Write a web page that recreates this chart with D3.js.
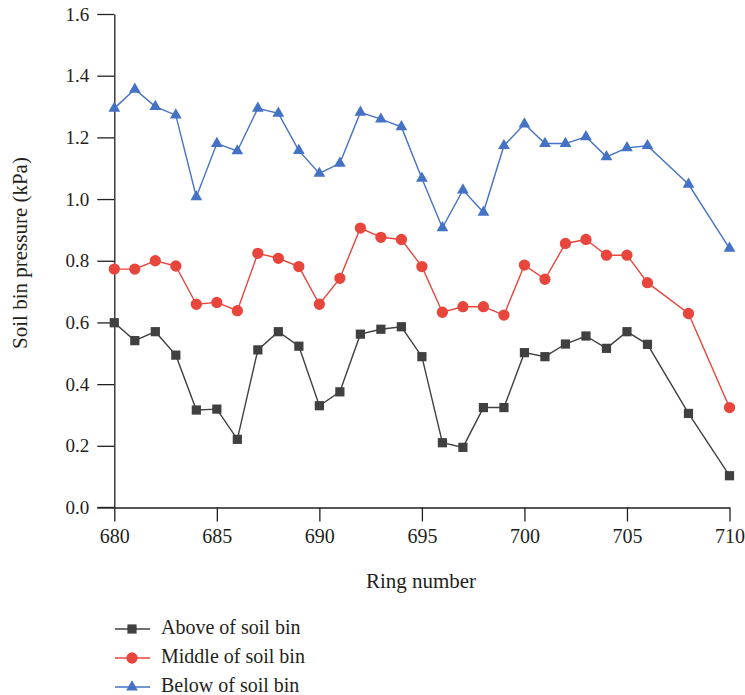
<!DOCTYPE html>
<html>
<head>
<meta charset="utf-8">
<script src="https://cdn.jsdelivr.net/npm/d3@7"></script>
<style>
  body { margin: 0; background: #fff; }
  svg, svg text { font-family: 'Liberation Serif', 'Times New Roman', Times, serif; }
  text { fill: #231f20; }
</style>
</head>
<body>
<script>
var svgWidth = 745;
var svgHeight = 695;
var serif = "'Liberation Serif', 'Times New Roman', Times, serif";

// ring numbers (707 and 709 are not measured)
var rings = [680, 681, 682, 683, 684, 685, 686, 687, 688, 689, 690, 691, 692, 693, 694,
  695, 696, 697, 698, 699, 700, 701, 702, 703, 704, 705, 706, 708, 710];

var above = [0.599, 0.541, 0.570, 0.494, 0.316, 0.319, 0.221, 0.511, 0.570, 0.523, 0.330, 0.375, 0.562, 0.578, 0.586,
  0.489, 0.210, 0.195, 0.324, 0.324, 0.502, 0.489, 0.530, 0.556, 0.516, 0.570, 0.529, 0.305, 0.103];

var middle = [0.773, 0.773, 0.800, 0.783, 0.659, 0.665, 0.638, 0.824, 0.808, 0.781, 0.659, 0.743, 0.906, 0.876, 0.869,
  0.781, 0.633, 0.651, 0.651, 0.624, 0.786, 0.740, 0.856, 0.869, 0.818, 0.818, 0.729, 0.629, 0.324];

var below = [1.294, 1.356, 1.300, 1.272, 1.007, 1.180, 1.156, 1.294, 1.278, 1.157, 1.083, 1.116, 1.281, 1.259, 1.234,
  1.067, 0.907, 1.029, 0.957, 1.173, 1.243, 1.180, 1.180, 1.202, 1.137, 1.166, 1.173, 1.048, 0.840];

var seriesNames = ["Above of soil bin", "Middle of soil bin", "Below of soil bin"];
var xTicks = [680, 685, 690, 695, 700, 705, 710];
var yTicks = [0.0, 0.2, 0.4, 0.6, 0.8, 1.0, 1.2, 1.4, 1.6];

var Margins = { top: 14, right: 15.5, bot: 187.5, left: 114.3 };
var WidthOfChart = svgWidth - Margins.left - Margins.right;
var HeightOfChart = svgHeight - Margins.top - Margins.bot;

var svg = d3.select("body")
  .append("svg")
  .attr("width", svgWidth)
  .attr("height", svgHeight)
  .style("font-family", serif);

var chartGroup = svg.append("g")
  .attr("transform", `translate(${Margins.left}, ${Margins.top})`);

var xAxe = d3.scaleLinear().domain([680, 710]).range([0, WidthOfChart]);
var yAxe = d3.scaleLinear().domain([0, 1.6]).range([HeightOfChart, 0]);

// axes
var LeftAxe = d3.axisLeft(yAxe).tickValues(yTicks).tickFormat(d3.format(".1f"))
  .tickSize(17).tickSizeOuter(0).tickPadding(8);
var BotAxe = d3.axisBottom(xAxe).tickValues(xTicks).tickFormat(d3.format("d"))
  .tickSize(14).tickSizeOuter(0).tickPadding(7);

var yG = chartGroup.append("g").call(LeftAxe)
  .attr("font-family", serif).attr("font-size", 19);
var xG = chartGroup.append("g")
  .attr("transform", `translate(0, ${HeightOfChart})`)
  .call(BotAxe)
  .attr("font-family", serif).attr("font-size", 20);

[yG, xG].forEach(function(g) {
  g.select(".domain").attr("stroke", "#231f20").attr("stroke-width", 1.3);
  g.selectAll(".tick line").attr("stroke", "#231f20").attr("stroke-width", 1.3);
  g.selectAll(".tick text").attr("fill", "#231f20").style("font-family", serif);
});
// bottom axis line runs left under the 0.0 tick
xG.append("line").attr("x1", -17).attr("x2", 0).attr("y1", 0).attr("y2", 0)
  .attr("stroke", "#231f20").attr("stroke-width", 1.3);

// titles
svg.append("text")
  .attr("transform", "rotate(-90)")
  .attr("x", -253)
  .attr("y", 27)
  .style("text-anchor", "middle")
  .style("font-family", serif)
  .style("font-size", "21px")
  .text("Soil bin pressure (kPa)");

svg.append("text")
  .attr("x", 421)
  .attr("y", 588)
  .style("text-anchor", "middle")
  .style("font-family", serif)
  .style("font-size", "21px")
  .text("Ring number");

var series = [
  { name: seriesNames[0], values: above, color: "#404040", shape: d3.symbolSquare, size: 85 },
  { name: seriesNames[1], values: middle, color: "#e8453c", shape: d3.symbolCircle, size: 100 },
  { name: seriesNames[2], values: below, color: "#4472c4", shape: d3.symbolTriangle, size: 60 }
];

var line = d3.line()
  .x(d => xAxe(d[0]))
  .y(d => yAxe(d[1]));

series.forEach(function(s) {
  var pts = rings.map((r, i) => [r, s.values[i]]);
  chartGroup.append("path")
    .datum(pts)
    .attr("fill", "none")
    .attr("stroke", s.color)
    .attr("stroke-width", 1.4)
    .attr("d", line);
  chartGroup.selectAll(null)
    .data(pts)
    .enter()
    .append("path")
    .attr("d", d3.symbol().type(s.shape).size(s.size))
    .attr("transform", d => `translate(${xAxe(d[0])}, ${yAxe(d[1])})`)
    .attr("fill", s.color);
});

// legend
var legend = svg.append("g").attr("transform", "translate(115, 629)");
series.forEach(function(s, i) {
  var row = legend.append("g").attr("transform", `translate(0, ${i * 29})`);
  row.append("line").attr("x1", 0).attr("x2", 35).attr("y1", 0).attr("y2", 0)
    .attr("stroke", s.color).attr("stroke-width", 1.4);
  row.append("path")
    .attr("d", d3.symbol().type(s.shape).size(s.size))
    .attr("transform", "translate(17, 0)")
    .attr("fill", s.color);
  row.append("text")
    .attr("x", 46)
    .attr("y", 5)
    .style("font-family", serif)
    .style("font-size", "20px")
    .text(s.name);
});
</script>
</body>
</html>
